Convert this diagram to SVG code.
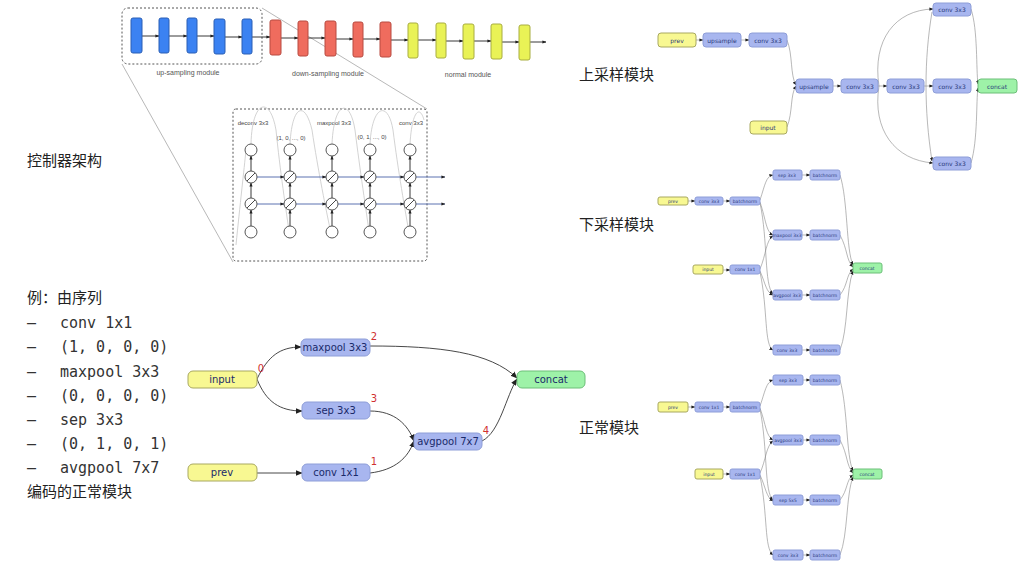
<svg xmlns="http://www.w3.org/2000/svg" width="1024" height="569" viewBox="0 0 1024 569">
<defs>
<marker id="ah" viewBox="0 0 10 10" refX="9" refY="5" markerWidth="7" markerHeight="7" markerUnits="userSpaceOnUse" orient="auto"><path d="M0,1 L10,5 L0,9 Z" fill="#222"/></marker>
<marker id="as" viewBox="0 0 10 10" refX="9" refY="5" markerWidth="4" markerHeight="4" markerUnits="userSpaceOnUse" orient="auto"><path d="M0,1 L10,5 L0,9 Z" fill="#222"/></marker>
<style>
.cn{font-family:"Noto Sans CJK SC",sans-serif;font-size:15px;fill:#222}
.mono{font-family:"DejaVu Sans Mono","Liberation Mono",monospace;font-size:15px;fill:#333}
.lbl{font-family:"Liberation Sans","DejaVu Sans",sans-serif;font-size:7px;fill:#555;text-anchor:middle}
.ctl{font-family:"Liberation Sans","DejaVu Sans",sans-serif;font-size:6px;fill:#444;text-anchor:middle}
.nt{font-family:"DejaVu Sans","Liberation Sans",sans-serif;font-size:10px;fill:#1a2a6a;text-anchor:middle;dominant-baseline:central}
.st{font-family:"DejaVu Sans","Liberation Sans",sans-serif;font-size:6px;fill:#2a3a7a;text-anchor:middle;dominant-baseline:central}
.tt{font-family:"DejaVu Sans","Liberation Sans",sans-serif;font-size:4.5px;fill:#2a3a7a;text-anchor:middle;dominant-baseline:central}
.num{font-family:"DejaVu Sans","Liberation Sans",sans-serif;font-size:10px;fill:#d03030;text-anchor:middle}
.yel{fill:#f8f892;stroke:#a8a860;stroke-width:1}
.blu{fill:#a8b6ef;stroke:#8e9ed8;stroke-width:1}
.grn{fill:#9ef2a8;stroke:#6cbf78;stroke-width:1}
.e{fill:none;stroke:#333;stroke-width:0.9;marker-end:url(#ah)}
.es{fill:none;stroke:#888;stroke-width:0.6;marker-end:url(#as)}
.bb{fill:#3b82f2;stroke:#2a5fb5;stroke-width:1}
.rb{fill:#ef6c5e;stroke:#b84a40;stroke-width:1}
.yb{fill:#e9f256;stroke:#a8ad40;stroke-width:1}
.cl{fill:#fff;stroke:#444;stroke-width:0.9}
.dash{fill:none;stroke:#555;stroke-width:1;stroke-dasharray:2,2}
.gl{fill:none;stroke:#999;stroke-width:0.7}
.fc{fill:none;stroke:#c8c8c8;stroke-width:0.8}
.ba{fill:none;stroke:#222;stroke-width:0.9;marker-end:url(#as)}
.ha{fill:none;stroke:#4a62a8;stroke-width:0.9;marker-end:url(#as)}
</style>
</defs>
<rect width="1024" height="569" fill="#fff"/>

<!-- Controller architecture -->
<g id="controller">
<rect class="dash" x="122" y="8" width="140" height="56" rx="6"/>
<line class="gl" x1="122" y1="64" x2="233" y2="262"/>
<line class="gl" x1="262" y1="8" x2="427" y2="109"/>
<g id="chain-arrows">
<line class="ba" x1="142" y1="36" x2="159" y2="36"/>
<line class="ba" x1="169" y1="36" x2="187" y2="36"/>
<line class="ba" x1="197" y1="36" x2="214" y2="36"/>
<line class="ba" x1="225" y1="37" x2="242" y2="37"/>
<line class="ba" x1="252" y1="37" x2="270" y2="37"/>
<line class="ba" x1="281" y1="38" x2="298" y2="38"/>
<line class="ba" x1="308" y1="38" x2="325" y2="38"/>
<line class="ba" x1="336" y1="39" x2="353" y2="39"/>
<line class="ba" x1="363" y1="39" x2="380" y2="39"/>
<line class="ba" x1="391" y1="40" x2="408" y2="40"/>
<line class="ba" x1="418" y1="40" x2="436" y2="40"/>
<line class="ba" x1="446" y1="41" x2="463" y2="41"/>
<line class="ba" x1="474" y1="41" x2="491" y2="41"/>
<line class="ba" x1="502" y1="42" x2="519" y2="42"/>
<line class="ba" x1="530" y1="42" x2="546" y2="42"/>
</g>
<rect class="bb" x="131" y="18" width="11" height="35" rx="2"/>
<rect class="bb" x="159" y="18" width="10" height="35" rx="2"/>
<rect class="bb" x="187" y="18" width="10" height="35" rx="2"/>
<rect class="bb" x="214" y="19" width="11" height="35" rx="2"/>
<rect class="bb" x="242" y="19" width="10" height="35" rx="2"/>
<rect class="rb" x="270" y="20" width="11" height="35" rx="2"/>
<rect class="rb" x="298" y="21" width="10" height="35" rx="2"/>
<rect class="rb" x="325" y="21" width="11" height="35" rx="2"/>
<rect class="rb" x="353" y="22" width="10" height="35" rx="2"/>
<rect class="rb" x="380" y="22" width="11" height="35" rx="2"/>
<rect class="yb" x="408" y="23" width="10" height="35" rx="2"/>
<rect class="yb" x="436" y="23" width="10" height="35" rx="2"/>
<rect class="yb" x="463" y="24" width="11" height="35" rx="2"/>
<rect class="yb" x="491" y="24" width="11" height="35" rx="2"/>
<rect class="yb" x="519" y="25" width="11" height="35" rx="2"/>
<text class="lbl" x="188" y="75">up-sampling module</text>
<text class="lbl" x="328" y="76">down-sampling module</text>
<text class="lbl" x="468" y="77">normal module</text>

<rect class="dash" x="233" y="109" width="194" height="152" rx="3"/>
<text class="ctl" x="253" y="125">deconv 3x3</text>
<text class="ctl" x="334" y="125">maxpool 3x3</text>
<text class="ctl" x="411" y="125">conv 3x3</text>
<text class="ctl" x="291" y="140">(1, 0, ..., 0)</text>
<text class="ctl" x="372" y="139">(0, 1, ..., 0)</text>
<g id="ctl-curves">
<path class="fc" d="M251,144 C252,100 270,95 276,130 C280,170 286,210 290,238"/>
<path class="fc" d="M290,144 C292,105 305,100 312,130 C318,170 326,210 332,238"/>
<path class="fc" d="M332,144 C334,100 350,98 355,130 C360,170 366,210 370,238"/>
<path class="fc" d="M370,144 C372,105 388,100 393,130 C398,170 405,210 410,238"/>
<path class="fc" d="M410,144 C412,110 420,105 424,120"/>
<path class="fc" d="M236,245 C240,205 244,170 246,150"/>
</g>
<g id="ctl-h">
<line class="ha" x1="257" y1="177" x2="284" y2="177"/>
<line class="ha" x1="296" y1="177" x2="326" y2="177"/>
<line class="ha" x1="338" y1="177" x2="364" y2="177"/>
<line class="ha" x1="376" y1="177" x2="404" y2="177"/>
<line class="ha" x1="416" y1="177" x2="445" y2="177"/>
<line class="ha" x1="257" y1="204" x2="284" y2="204"/>
<line class="ha" x1="296" y1="204" x2="326" y2="204"/>
<line class="ha" x1="338" y1="204" x2="364" y2="204"/>
<line class="ha" x1="376" y1="204" x2="404" y2="204"/>
<line class="ha" x1="416" y1="204" x2="445" y2="204"/>
</g>
<g id="ctl-v">
<line class="ba" x1="251" y1="226" x2="251" y2="210"/><line class="ba" x1="251" y1="198" x2="251" y2="183"/><line class="ba" x1="251" y1="171" x2="251" y2="156"/>
<line class="ba" x1="290" y1="226" x2="290" y2="210"/><line class="ba" x1="290" y1="198" x2="290" y2="183"/><line class="ba" x1="290" y1="171" x2="290" y2="156"/>
<line class="ba" x1="332" y1="226" x2="332" y2="210"/><line class="ba" x1="332" y1="198" x2="332" y2="183"/><line class="ba" x1="332" y1="171" x2="332" y2="156"/>
<line class="ba" x1="370" y1="226" x2="370" y2="210"/><line class="ba" x1="370" y1="198" x2="370" y2="183"/><line class="ba" x1="370" y1="171" x2="370" y2="156"/>
<line class="ba" x1="410" y1="226" x2="410" y2="210"/><line class="ba" x1="410" y1="198" x2="410" y2="183"/><line class="ba" x1="410" y1="171" x2="410" y2="156"/>
</g>
<g id="ctl-circles">
<circle class="cl" cx="251" cy="150" r="6"/><circle class="cl" cx="290" cy="150" r="6"/><circle class="cl" cx="332" cy="150" r="6"/><circle class="cl" cx="370" cy="150" r="6"/><circle class="cl" cx="410" cy="150" r="6"/>
<circle class="cl" cx="251" cy="232" r="6"/><circle class="cl" cx="290" cy="232" r="6"/><circle class="cl" cx="332" cy="232" r="6"/><circle class="cl" cx="370" cy="232" r="6"/><circle class="cl" cx="410" cy="232" r="6"/>
<g id="gates" stroke="#333" stroke-width="0.9">
<circle class="cl" cx="251" cy="177" r="6"/><line x1="247" y1="181" x2="255" y2="173"/>
<circle class="cl" cx="290" cy="177" r="6"/><line x1="286" y1="181" x2="294" y2="173"/>
<circle class="cl" cx="332" cy="177" r="6"/><line x1="328" y1="181" x2="336" y2="173"/>
<circle class="cl" cx="370" cy="177" r="6"/><line x1="366" y1="181" x2="374" y2="173"/>
<circle class="cl" cx="410" cy="177" r="6"/><line x1="406" y1="181" x2="414" y2="173"/>
<circle class="cl" cx="251" cy="204" r="6"/><line x1="247" y1="208" x2="255" y2="200"/>
<circle class="cl" cx="290" cy="204" r="6"/><line x1="286" y1="208" x2="294" y2="200"/>
<circle class="cl" cx="332" cy="204" r="6"/><line x1="328" y1="208" x2="336" y2="200"/>
<circle class="cl" cx="370" cy="204" r="6"/><line x1="366" y1="208" x2="374" y2="200"/>
<circle class="cl" cx="410" cy="204" r="6"/><line x1="406" y1="208" x2="414" y2="200"/>
</g>
</g>
</g>

<text class="cn" x="27" y="166">控制器架构</text>

<!-- Example text -->
<g id="example-text">
<text class="cn" x="27" y="303">例：由序列</text>
<text class="mono" x="27" y="328">–</text><text class="mono" x="60" y="328">conv 1x1</text>
<text class="mono" x="27" y="352">–</text><text class="mono" x="60" y="352">(1, 0, 0, 0)</text>
<text class="mono" x="27" y="377">–</text><text class="mono" x="60" y="377">maxpool 3x3</text>
<text class="mono" x="27" y="401">–</text><text class="mono" x="60" y="401">(0, 0, 0, 0)</text>
<text class="mono" x="27" y="425">–</text><text class="mono" x="60" y="425">sep 3x3</text>
<text class="mono" x="27" y="449">–</text><text class="mono" x="60" y="449">(0, 1, 0, 1)</text>
<text class="mono" x="27" y="473">–</text><text class="mono" x="60" y="473">avgpool 7x7</text>
<text class="cn" x="27" y="497">编码的正常模块</text>
</g>

<!-- Example graph -->
<g id="ex-edges">
<path class="e" d="M257,379 C268,356 280,347 301,347"/>
<path class="e" d="M257,379 C266,402 280,411 302,411"/>
<path class="e" d="M257,473 L302,473"/>
<path class="e" d="M370,346 C440,346 490,352 517,378"/>
<path class="e" d="M370,411 C395,411 408,425 414,441"/>
<path class="e" d="M370,473 C395,470 408,458 414,441"/>
<path class="e" d="M482,441 C500,432 506,396 517,379"/>
</g>
<g id="ex-input"><rect class="yel" x="188" y="371" width="69" height="17" rx="5"/><text class="nt" x="222" y="379.5">input</text></g>
<g id="ex-prev"><rect class="yel" x="188" y="464" width="69" height="17" rx="5"/><text class="nt" x="222" y="472.5">prev</text></g>
<g id="ex-maxpool"><rect class="blu" x="301" y="339" width="69" height="17" rx="5"/><text class="nt" x="335" y="347.5">maxpool 3x3</text></g>
<g id="ex-sep"><rect class="blu" x="302" y="402" width="68" height="17" rx="5"/><text class="nt" x="336" y="410.5">sep 3x3</text></g>
<g id="ex-conv"><rect class="blu" x="302" y="464" width="68" height="17" rx="5"/><text class="nt" x="336" y="472.5">conv 1x1</text></g>
<g id="ex-avgpool"><rect class="blu" x="414" y="433" width="68" height="17" rx="5"/><text class="nt" x="448" y="441.5">avgpool 7x7</text></g>
<g id="ex-concat"><rect class="grn" x="517" y="371" width="68" height="17" rx="5"/><text class="nt" x="551" y="379.5">concat</text></g>
<g id="ex-nums">
<text class="num" x="261" y="372">0</text>
<text class="num" x="374" y="340">2</text>
<text class="num" x="374" y="402">3</text>
<text class="num" x="374" y="465">1</text>
<text class="num" x="486" y="434">4</text>
</g>

<!-- Right labels -->
<text class="cn" x="579" y="80">上采样模块</text>
<text class="cn" x="579" y="230">下采样模块</text>
<text class="cn" x="579" y="433">正常模块</text>

<!-- Up-sampling module -->
<g id="up-edges">
<line class="es" x1="696" y1="40" x2="703" y2="40"/>
<line class="es" x1="741" y1="40" x2="749" y2="40"/>
<path class="es" d="M787,40 C793,55 790,75 796,85"/>
<path class="es" d="M787,127 C793,112 790,95 796,86"/>
<line class="es" x1="833" y1="86" x2="841" y2="86"/>
<line class="es" x1="878" y1="86" x2="887" y2="86"/>
<line class="es" x1="924" y1="86" x2="933" y2="86"/>
<path class="es" d="M879,86 C872,40 895,10 933,9"/>
<path class="es" d="M879,86 C872,130 895,160 933,163"/>
<path class="es" d="M932,12 C924,60 924,110 932,161"/>
<path class="es" d="M971,9 C978,30 976,70 978,84"/>
<path class="es" d="M971,163 C978,140 976,100 978,88"/>
</g>
<g id="up-prev"><rect class="yel" x="658" y="33" width="38" height="14" rx="3"/><text class="st" x="677" y="40">prev</text></g>
<g id="up-upsample1"><rect class="blu" x="703" y="33" width="38" height="14" rx="3"/><text class="st" x="722" y="40">upsample</text></g>
<g id="up-conv0"><rect class="blu" x="749" y="33" width="38" height="14" rx="3"/><text class="st" x="768" y="40">conv 3x3</text></g>
<g id="up-input"><rect class="yel" x="750" y="121" width="37" height="13" rx="3"/><text class="st" x="768" y="127.5">input</text></g>
<g id="up-upsample2"><rect class="blu" x="796" y="79" width="37" height="14" rx="3"/><text class="st" x="814" y="86">upsample</text></g>
<g id="up-conv1"><rect class="blu" x="841" y="79" width="37" height="14" rx="3"/><text class="st" x="860" y="86">conv 3x3</text></g>
<g id="up-conv2"><rect class="blu" x="887" y="79" width="37" height="14" rx="3"/><text class="st" x="906" y="86">conv 3x3</text></g>
<g id="up-conv-top"><rect class="blu" x="933" y="3" width="38" height="13" rx="3"/><text class="st" x="952" y="9.5">conv 3x3</text></g>
<g id="up-conv-mid"><rect class="blu" x="933" y="79" width="38" height="14" rx="3"/><text class="st" x="952" y="86">conv 3x3</text></g>
<g id="up-conv-bot"><rect class="blu" x="933" y="157" width="38" height="13" rx="3"/><text class="st" x="952" y="163.5">conv 3x3</text></g>
<g id="up-concat"><rect class="grn" x="978" y="79" width="39" height="14" rx="3"/><text class="st" x="997" y="86">concat</text></g>

<!-- Down-sampling module -->
<g id="down-edges">
<line class="es" x1="688" y1="201" x2="695" y2="201"/>
<line class="es" x1="723" y1="201" x2="730" y2="201"/>
<line class="es" x1="723" y1="270" x2="730" y2="270"/>
<path class="es" d="M760,200 C765,185 766,176 773,175"/>
<path class="es" d="M760,202 C766,220 766,232 773,235"/>
<path class="es" d="M760,203 C768,240 764,285 773,294"/>
<path class="es" d="M760,269 C766,255 766,240 773,236"/>
<path class="es" d="M760,271 C766,285 766,292 773,295"/>
<path class="es" d="M760,272 C768,310 764,345 773,350"/>
<line class="es" x1="802" y1="175" x2="810" y2="175"/>
<line class="es" x1="802" y1="235" x2="810" y2="235"/>
<line class="es" x1="802" y1="295" x2="810" y2="295"/>
<line class="es" x1="802" y1="350" x2="810" y2="350"/>
<path class="es" d="M840,175 C848,200 846,250 853,265"/>
<path class="es" d="M840,235 C848,250 846,260 853,267"/>
<path class="es" d="M840,295 C848,285 846,275 853,269"/>
<path class="es" d="M840,350 C848,330 846,290 853,271"/>
</g>
<g id="down-prev"><rect class="yel" x="658" y="197" width="30" height="8" rx="2"/><text class="tt" x="673" y="201">prev</text></g>
<g id="down-conv0"><rect class="blu" x="695" y="197" width="28" height="8" rx="2"/><text class="tt" x="709" y="201">conv 3x3</text></g>
<g id="down-bn0"><rect class="blu" x="730" y="197" width="30" height="8" rx="2"/><text class="tt" x="745" y="201">batchnorm</text></g>
<g id="down-input"><rect class="yel" x="693" y="265" width="30" height="9" rx="2"/><text class="tt" x="708" y="269.5">input</text></g>
<g id="down-conv1"><rect class="blu" x="730" y="265" width="30" height="9" rx="2"/><text class="tt" x="745" y="269.5">conv 1x1</text></g>
<g id="down-op1"><rect class="blu" x="773" y="170" width="29" height="10" rx="2"/><text class="tt" x="787" y="175">sep 3x3</text></g>
<g id="down-bn1"><rect class="blu" x="810" y="170" width="30" height="10" rx="2"/><text class="tt" x="825" y="175">batchnorm</text></g>
<g id="down-op2"><rect class="blu" x="773" y="230" width="29" height="10" rx="2"/><text class="tt" x="787" y="235">maxpool 3x3</text></g>
<g id="down-bn2"><rect class="blu" x="810" y="230" width="30" height="10" rx="2"/><text class="tt" x="825" y="235">batchnorm</text></g>
<g id="down-op3"><rect class="blu" x="773" y="290" width="29" height="10" rx="2"/><text class="tt" x="787" y="295">avgpool 3x3</text></g>
<g id="down-bn3"><rect class="blu" x="810" y="290" width="30" height="10" rx="2"/><text class="tt" x="825" y="295">batchnorm</text></g>
<g id="down-op4"><rect class="blu" x="773" y="345" width="29" height="10" rx="2"/><text class="tt" x="787" y="350">conv 3x3</text></g>
<g id="down-bn4"><rect class="blu" x="810" y="345" width="30" height="10" rx="2"/><text class="tt" x="825" y="350">batchnorm</text></g>
<g id="down-concat"><rect class="grn" x="853" y="263" width="29" height="10" rx="2"/><text class="tt" x="867" y="268">concat</text></g>

<!-- Normal module -->
<g id="norm-edges">
<line class="es" x1="688" y1="407" x2="695" y2="407"/>
<line class="es" x1="723" y1="407" x2="730" y2="407"/>
<line class="es" x1="723" y1="474" x2="730" y2="474"/>
<path class="es" d="M760,406 C765,392 766,382 773,380"/>
<path class="es" d="M760,408 C766,425 766,436 773,440"/>
<path class="es" d="M760,409 C768,450 764,492 773,500"/>
<path class="es" d="M760,473 C766,460 766,446 773,441"/>
<path class="es" d="M760,475 C766,488 766,497 773,501"/>
<path class="es" d="M760,476 C768,515 764,548 773,555"/>
<line class="es" x1="803" y1="380" x2="810" y2="380"/>
<line class="es" x1="803" y1="440" x2="810" y2="440"/>
<line class="es" x1="803" y1="500" x2="810" y2="500"/>
<line class="es" x1="803" y1="555" x2="810" y2="555"/>
<path class="es" d="M840,380 C848,410 846,455 853,471"/>
<path class="es" d="M840,440 C848,455 846,465 853,473"/>
<path class="es" d="M840,500 C848,490 846,480 853,475"/>
<path class="es" d="M840,555 C848,535 846,495 853,477"/>
</g>
<g id="norm-prev"><rect class="yel" x="658" y="402" width="30" height="10" rx="2"/><text class="tt" x="673" y="407">prev</text></g>
<g id="norm-conv0"><rect class="blu" x="695" y="402" width="28" height="10" rx="2"/><text class="tt" x="709" y="407">conv 1x1</text></g>
<g id="norm-bn0"><rect class="blu" x="730" y="402" width="30" height="10" rx="2"/><text class="tt" x="745" y="407">batchnorm</text></g>
<g id="norm-input"><rect class="yel" x="695" y="469" width="28" height="10" rx="2"/><text class="tt" x="709" y="474">input</text></g>
<g id="norm-conv1"><rect class="blu" x="730" y="469" width="30" height="10" rx="2"/><text class="tt" x="745" y="474">conv 1x1</text></g>
<g id="norm-op1"><rect class="blu" x="773" y="375" width="30" height="10" rx="2"/><text class="tt" x="788" y="380">sep 3x3</text></g>
<g id="norm-bn1"><rect class="blu" x="810" y="375" width="30" height="10" rx="2"/><text class="tt" x="825" y="380">batchnorm</text></g>
<g id="norm-op2"><rect class="blu" x="773" y="435" width="30" height="10" rx="2"/><text class="tt" x="788" y="440">avgpool 3x3</text></g>
<g id="norm-bn2"><rect class="blu" x="810" y="435" width="30" height="10" rx="2"/><text class="tt" x="825" y="440">batchnorm</text></g>
<g id="norm-op3"><rect class="blu" x="773" y="495" width="30" height="10" rx="2"/><text class="tt" x="788" y="500">sep 5x5</text></g>
<g id="norm-bn3"><rect class="blu" x="810" y="495" width="30" height="10" rx="2"/><text class="tt" x="825" y="500">batchnorm</text></g>
<g id="norm-op4"><rect class="blu" x="773" y="550" width="30" height="10" rx="2"/><text class="tt" x="788" y="555">conv 3x3</text></g>
<g id="norm-bn4"><rect class="blu" x="810" y="550" width="30" height="10" rx="2"/><text class="tt" x="825" y="555">batchnorm</text></g>
<g id="norm-concat"><rect class="grn" x="853" y="469" width="29" height="10" rx="2"/><text class="tt" x="867" y="474">concat</text></g>
</svg>
